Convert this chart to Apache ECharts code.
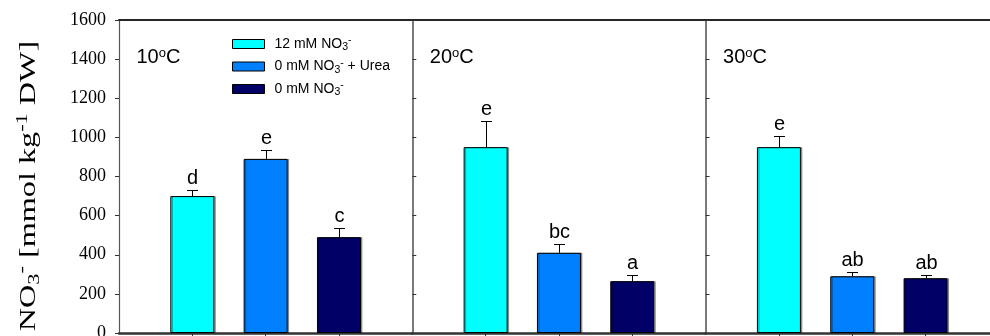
<!DOCTYPE html>
<html>
<head>
<meta charset="utf-8">
<script src="https://cdn.jsdelivr.net/npm/echarts@6/dist/echarts.min.js"></script>
<style>
  html, body { margin: 0; padding: 0; background: #fff; }
  #chart { width: 990px; height: 336px; }
</style>
</head>
<body>
<div id="chart"></div>
<script>
// Growth temperatures, one panel each (ºC)
const temperatures = ['10', '20', '30'];
// Nutrient treatments (legend order)
const treatments = ['12 mM NO3-', '0 mM NO3- + Urea', '0 mM NO3-'];

// Leaf nitrate content, mmol kg-1 DW, per temperature
const nitrate12 = [700, 950, 950];
const nitrate12Err = [33, 135, 58];
const nitrate12Letters = ['d', 'e', 'e'];

const ureaOnly = [890, 410, 290];
const ureaOnlyErr = [48, 45, 23];
const ureaOnlyLetters = ['e', 'bc', 'ab'];

const nitrate0 = [490, 265, 280];
const nitrate0Err = [47, 32, 18];
const nitrate0Letters = ['c', 'a', 'ab'];

// Value axis
const yMin = 0, yMax = 1600, yStep = 200;

// ---- styling / layout ----
const colors = ['#00FFFF', '#0080FF', '#000066'];
const legendLabels = [
  '12 mM NO{s|3}{p|-}',
  '0 mM NO{s|3}{p|-} + Urea',
  '0 mM NO{s|3}{p|-}'
];
const PLOT_LEFT = 119, PANEL_W = 293.3, PLOT_TOP = 20, PLOT_H = 313;
const SANS = '"Liberation Sans", Arial, sans-serif';
const SERIF = '"Liberation Serif", "Times New Roman", serif';

const values = [nitrate12, ureaOnly, nitrate0];
const errors = [nitrate12Err, ureaOnlyErr, nitrate0Err];
const letters = [nitrate12Letters, ureaOnlyLetters, nitrate0Letters];

const chart = echarts.init(document.getElementById('chart'), null, { renderer: 'canvas' });

const grids = [], xAxes = [], yAxes = [], series = [], titles = [];

temperatures.forEach((t, p) => {
  grids.push({
    left: PLOT_LEFT + p * PANEL_W, top: PLOT_TOP, width: PANEL_W, height: PLOT_H,
    containLabel: false, outerBoundsMode: 'none'
  });

  // bottom axis
  xAxes.push({
    gridIndex: p, type: 'value', min: 0, max: 4, position: 'bottom',
    axisLine: { show: true, lineStyle: { color: '#333', width: 2.5 } },
    axisTick: { show: true, customValues: [1, 2, 3], length: 3, lineStyle: { color: '#333' } },
    axisLabel: { show: false }, splitLine: { show: false }
  });
  // top frame line
  xAxes.push({
    gridIndex: p, type: 'value', min: 0, max: 4, position: 'top',
    axisLine: { show: true, lineStyle: { color: '#262626', width: 2 } },
    axisTick: { show: false }, axisLabel: { show: false }, splitLine: { show: false }
  });

  yAxes.push({
    gridIndex: p, type: 'value', min: yMin, max: yMax, interval: yStep,
    axisLine: { show: true, lineStyle: { color: p === 0 ? '#555' : '#7a7a7a', width: p === 0 ? 1.2 : 2 } },
    axisTick: { show: true, inside: p !== 0, length: 4, lineStyle: { color: '#333', width: 1 } },
    axisLabel: {
      show: p === 0, margin: 13, color: '#000',
      fontFamily: SERIF, fontSize: 18,
      formatter: v => String(v)
    },
    splitLine: { show: false }
  });

  titles.push({
    text: t + '{o|o}C',
    left: PLOT_LEFT + p * PANEL_W + 17.5, top: 47, padding: 0,
    textStyle: {
      fontFamily: SANS, fontSize: 20, fontWeight: 'normal', color: '#000',
      rich: { o: { fontSize: 13, verticalAlign: 'top', fontFamily: SANS, color: '#000' } }
    }
  });

  treatments.forEach((name, k) => {
    series.push({
      type: 'bar', name: name, xAxisIndex: 2 * p, yAxisIndex: p,
      barWidth: 44, barGap: '-100%',
      data: [[k + 1, values[k][p]]],
      itemStyle: {
        color: colors[k], borderColor: '#000', borderWidth: 1,
        shadowColor: 'rgba(0,0,0,0.35)', shadowOffsetX: 1.5, shadowOffsetY: 0, shadowBlur: 0
      },
      emphasis: { disabled: true }, animation: false, z: 2
    });
  });

  // error whiskers + significance letters
  const labelSet = treatments.map((_, k) => letters[k][p]);
  series.push({
    type: 'custom', name: 'sd' + p, xAxisIndex: 2 * p, yAxisIndex: p,
    data: treatments.map((_, k) => [k + 1, values[k][p], errors[k][p]]),
    renderItem: (params, api) => {
      const x = api.value(0), v = api.value(1), e = api.value(2);
      const b = api.coord([x, v]);
      const top = api.coord([x, v + e]);
      const cx = Math.round(b[0]) + 0.5;
      const ty = Math.round(top[1]) + 0.5;
      return {
        type: 'group',
        children: [
          { type: 'line', shape: { x1: cx, y1: b[1], x2: cx, y2: ty }, style: { stroke: '#000', lineWidth: 1 } },
          { type: 'line', shape: { x1: cx - 5.5, y1: ty, x2: cx + 5.5, y2: ty }, style: { stroke: '#000', lineWidth: 1 } },
          {
            type: 'text', x: cx, y: ty - 2,
            style: {
              text: labelSet[params.dataIndex], textAlign: 'center', textVerticalAlign: 'bottom',
              font: '20px ' + SANS, fill: '#000'
            }
          }
        ]
      };
    },
    z: 3, animation: false, silent: true
  });
});

chart.setOption({
  backgroundColor: '#fff',
  animation: false,
  title: titles,
  grid: grids,
  xAxis: xAxes,
  yAxis: yAxes,
  legend: {
    data: treatments,
    orient: 'vertical', left: 232, top: 35, padding: 0,
    itemWidth: 32, itemHeight: 9, itemGap: 4.5, icon: 'rect',
    selectedMode: false,
    itemStyle: { borderColor: '#000', borderWidth: 1, shadowBlur: 0, shadowOffsetX: 0, shadowColor: 'transparent' },
    formatter: name => legendLabels[treatments.indexOf(name)],
    textStyle: {
      fontFamily: SANS, fontSize: 14, color: '#000',
      padding: [0, 0, 0, 5], lineHeight: 18,
      rich: {
        s: { fontSize: 10.5, verticalAlign: 'bottom', lineHeight: 18, fontFamily: SANS, color: '#000' },
        p: { fontSize: 10.5, verticalAlign: 'top', lineHeight: 18, fontFamily: SANS, color: '#000' }
      }
    }
  },
  graphic: [{
    type: 'text',
    x: 43, y: 186, rotation: Math.PI / 2, scaleX: 1.4,
    style: {
      text: 'NO{s|3}{p|-} [mmol kg{p|-1} DW]',
      textAlign: 'center', textVerticalAlign: 'bottom',
      font: '23px ' + SERIF, fill: '#000',
      rich: {
        s: { fontSize: 16, verticalAlign: 'bottom', lineHeight: 28, fontFamily: SERIF },
        p: { fontSize: 16, verticalAlign: 'top', lineHeight: 28, fontFamily: SERIF }
      },
      lineHeight: 28
    }
  }],
  series: series
});
</script>
</body>
</html>
